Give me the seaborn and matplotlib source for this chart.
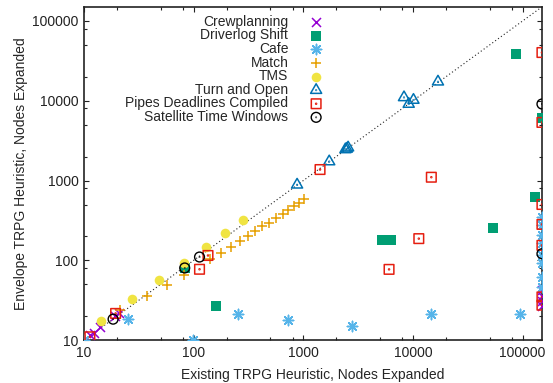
import matplotlib
matplotlib.use("Agg")
import matplotlib.pyplot as plt
import pandas as pd
import seaborn as sns
from matplotlib import ticker
from matplotlib.path import Path
from matplotlib.transforms import Affine2D

# Nodes expanded per problem: existing TRPG heuristic (x) vs envelope TRPG heuristic (y)
crew_x = [11.3, 12.3, 14, 19, 21, 150000, 150000, 150000, 150000]
crew_y = [11.5, 12.3, 14.5, 20, 22, 42, 36, 31, 27]

driver_x = [83, 161, 5250, 6320, 53300, 86300, 150000, 129000]
driver_y = [80, 26.6, 182, 178, 253, 38900, 6000, 613]

cafe_x = [10, 25.3, 98.6, 253, 731, 2750, 14600, 95300,
          150000, 150000, 150000, 150000, 150000, 150000, 150000, 150000]
cafe_y = [10, 18.3, 10, 21, 17.8, 15, 21, 21,
          349, 274, 205, 163, 115, 92, 62, 46]

match_x = [21.2, 37.2, 57.1, 81.1, 142, 177, 219, 262, 312, 364, 424,
           488, 565, 650, 731, 822, 920, 1014]
match_y = [23.7, 35.5, 49.7, 66.2, 103, 125, 147, 176, 204, 232, 266,
           296, 338, 376, 422, 473, 526, 591]

tms_x = [14.2, 27.2, 48.1, 81.1, 129, 194, 279]
tms_y = [17.4, 32.3, 56.2, 92.5, 145, 219, 316]

turn_x = [877, 1722, 2420, 2494, 2560, 8280, 10100, 9140, 16900]
turn_y = [884, 1729, 2450, 2490, 2580, 11000, 10200, 9090, 17300]

pipes_x = [11.3, 19.4, 113, 135, 1420, 14700, 11300, 6050,
           150000, 150000, 150000, 150000, 150000, 150000, 150000]
pipes_y = [11, 21.6, 77.2, 115, 1373, 1100, 187, 77,
           40200, 5350, 501, 282, 154, 34.8, 27.4]

sat_x = [18.4, 82.8, 113, 150000, 150000]
sat_y = [18.3, 80.2, 110, 9100, 121]

AXIS_MIN, AXIS_MAX = 10, 150000


def with_dot(path):
    # gnuplot style open marker with a small dot in the middle
    dot = Path.unit_circle().transformed(Affine2D().scale(0.05))
    return Path.make_compound_path(path, dot)


open_square = with_dot(Path.unit_rectangle().transformed(Affine2D().translate(-0.5, -0.5)))
open_triangle = with_dot(Path.unit_regular_polygon(3))
open_circle = with_dot(Path.unit_circle())

series = [
    ("Crewplanning", crew_x, crew_y, dict(marker="x", color="#9400d3", s=42, linewidth=1.1)),
    ("Driverlog Shift", driver_x, driver_y, dict(marker="s", color="#009e73", s=50, linewidth=0)),
    ("Cafe", cafe_x, cafe_y, dict(marker=(8, 2, 0), color="#56b4e9", s=55, linewidth=1.1)),
    ("Match", match_x, match_y, dict(marker="+", color="#e69f00", s=50, linewidth=1.1)),
    ("TMS", tms_x, tms_y, dict(marker="o", color="#f0e442", s=48, linewidth=0)),
    ("Turn and Open", turn_x, turn_y,
     dict(marker=open_triangle, facecolor="none", edgecolor="#0072b2", s=85, linewidth=1.1)),
    ("Pipes Deadlines Compiled", pipes_x, pipes_y,
     dict(marker=open_square, facecolor="none", edgecolor="#e51e10", s=48, linewidth=1.1)),
    ("Satellite Time Windows", sat_x, sat_y,
     dict(marker=open_circle, facecolor="none", edgecolor="black", s=50, linewidth=1.0)),
]

sns.set_style("ticks", {"xtick.direction": "in", "ytick.direction": "in"})
plt.rcParams["font.family"] = ["Liberation Sans", "DejaVu Sans"]
plt.rcParams["font.size"] = 10

fig, ax = plt.subplots(figsize=(5.53, 3.83), dpi=100)
fig.subplots_adjust(left=0.152, right=0.980, bottom=0.112, top=0.982)

ax.axline((AXIS_MIN, AXIS_MIN), (AXIS_MAX, AXIS_MAX), color="#222222",
          linestyle=(0, (1, 2.2)), linewidth=0.8, zorder=1)

for name, xs, ys, style in series:
    frame = pd.DataFrame({"x": xs, "y": ys})
    sns.scatterplot(data=frame, x="x", y="y", label=name, ax=ax, zorder=3, **style)

ax.set_xscale("log")
ax.set_yscale("log")
ax.set_xlim(AXIS_MIN, AXIS_MAX)
ax.set_ylim(AXIS_MIN, AXIS_MAX)

fmt = ticker.FuncFormatter(lambda v, _: f"{v:g}")
for axis in (ax.xaxis, ax.yaxis):
    axis.set_major_locator(ticker.LogLocator(base=10, numticks=10))
    axis.set_minor_locator(ticker.LogLocator(base=10, subs=(2, 5, 8), numticks=10))
    axis.set_major_formatter(fmt)
    axis.set_minor_formatter(ticker.NullFormatter())

ax.tick_params(which="both", direction="in", top=True, right=True, colors="#222222",
               labelcolor="#222222", labelsize=10)
ax.tick_params(which="major", length=3.8, width=0.8, pad=4)
ax.tick_params(which="minor", length=2.0, width=0.8)
for spine in ax.spines.values():
    spine.set_visible(True)
    spine.set_linewidth(1.2)
    spine.set_color("#222222")

ax.set_xlabel("Existing TRPG Heuristic, Nodes Expanded", fontsize=10, labelpad=6)
ax.set_ylabel("Envelope TRPG Heuristic, Nodes Expanded", fontsize=10, labelpad=3)

ax.legend(loc="upper right", bbox_to_anchor=(0.522, 0.976), frameon=False,
          markerfirst=False, handlelength=1.0, handletextpad=1.5,
          labelspacing=-0.03, borderpad=0, borderaxespad=0, fontsize=10)

fig.savefig("out.png", dpi=100)
